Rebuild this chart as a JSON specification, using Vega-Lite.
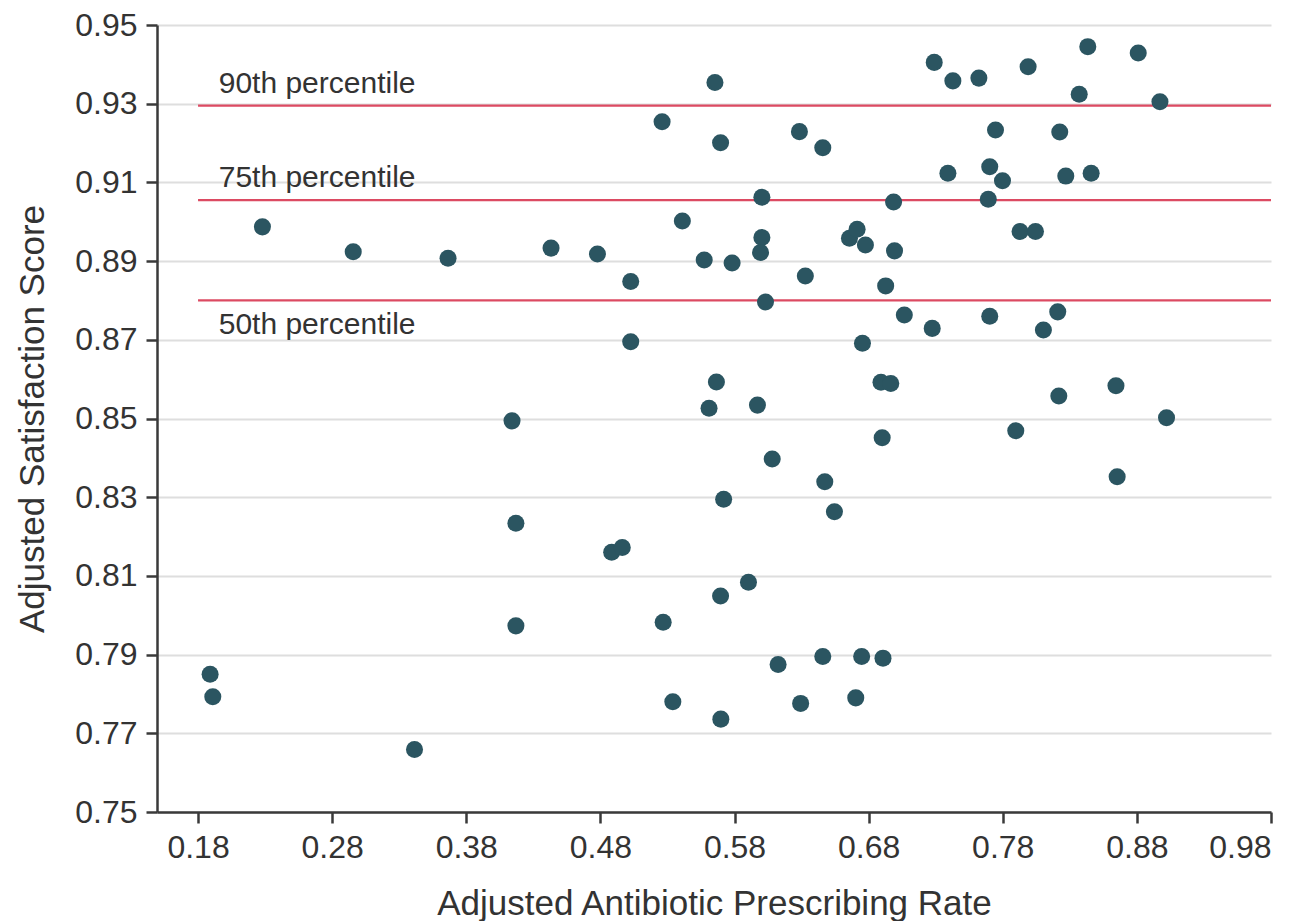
{
  "$schema": "https://vega.github.io/schema/vega-lite/v6.json",
  "autosize": {"type": "none"},
  "padding": {"left": 157, "top": 25, "right": 38, "bottom": 109},
  "width": 1114,
  "height": 787,
  "background": "white",
  "config": {
    "view": {"stroke": null},
    "font": "Liberation Sans",
    "axis": {
      "domainColor": "#3a3a3a",
      "domainWidth": 2.5,
      "tickColor": "#3a3a3a",
      "tickWidth": 2.5,
      "tickSize": 11,
      "labelFont": "Liberation Sans",
      "labelFontSize": 32,
      "labelColor": "#333333",
      "labelPadding": 9,
      "titleFont": "Liberation Sans",
      "titleFontSize": 35,
      "titleFontWeight": "normal",
      "titleColor": "#333333",
      "gridColor": "#dedede",
      "gridWidth": 2
    }
  },
  "datasets": {
    "points": [
      {"rate": 0.189, "score": 0.785},
      {"rate": 0.191, "score": 0.7793},
      {"rate": 0.3414, "score": 0.7659},
      {"rate": 0.228, "score": 0.8987},
      {"rate": 0.2957, "score": 0.8924},
      {"rate": 0.3664, "score": 0.8907},
      {"rate": 0.4141, "score": 0.8494},
      {"rate": 0.417, "score": 0.8234},
      {"rate": 0.417, "score": 0.7973},
      {"rate": 0.4432, "score": 0.8933},
      {"rate": 0.4778, "score": 0.8918},
      {"rate": 0.5026, "score": 0.8848},
      {"rate": 0.5026, "score": 0.8695},
      {"rate": 0.4884, "score": 0.816},
      {"rate": 0.4963, "score": 0.8172},
      {"rate": 0.526, "score": 0.9254},
      {"rate": 0.5411, "score": 0.9002},
      {"rate": 0.5268, "score": 0.7982},
      {"rate": 0.534, "score": 0.778},
      {"rate": 0.5574, "score": 0.8903},
      {"rate": 0.5654, "score": 0.9354},
      {"rate": 0.5696, "score": 0.9201},
      {"rate": 0.5782, "score": 0.8895},
      {"rate": 0.5665, "score": 0.8593},
      {"rate": 0.561, "score": 0.8526},
      {"rate": 0.5971, "score": 0.8534},
      {"rate": 0.5719, "score": 0.8295},
      {"rate": 0.5696, "score": 0.8049},
      {"rate": 0.5904, "score": 0.8084},
      {"rate": 0.5698, "score": 0.7736},
      {"rate": 0.6004, "score": 0.9062},
      {"rate": 0.6004, "score": 0.896},
      {"rate": 0.5994, "score": 0.8922},
      {"rate": 0.6031, "score": 0.8796},
      {"rate": 0.6081, "score": 0.8397},
      {"rate": 0.6125, "score": 0.7875},
      {"rate": 0.6284, "score": 0.9229},
      {"rate": 0.6458, "score": 0.9188},
      {"rate": 0.6328, "score": 0.8862},
      {"rate": 0.6293, "score": 0.7776},
      {"rate": 0.6473, "score": 0.8339},
      {"rate": 0.6545, "score": 0.8263},
      {"rate": 0.6458, "score": 0.7895},
      {"rate": 0.6748, "score": 0.7895},
      {"rate": 0.6907, "score": 0.7891},
      {"rate": 0.6704, "score": 0.779},
      {"rate": 0.6657, "score": 0.8958},
      {"rate": 0.6714, "score": 0.8981},
      {"rate": 0.6776, "score": 0.8941},
      {"rate": 0.6986, "score": 0.905},
      {"rate": 0.6993, "score": 0.8926},
      {"rate": 0.6927, "score": 0.8837},
      {"rate": 0.6754, "score": 0.8691},
      {"rate": 0.6892, "score": 0.8592},
      {"rate": 0.6965, "score": 0.8589},
      {"rate": 0.6901, "score": 0.8451},
      {"rate": 0.7066, "score": 0.8763},
      {"rate": 0.7274, "score": 0.8729},
      {"rate": 0.7289, "score": 0.9405},
      {"rate": 0.7428, "score": 0.9358},
      {"rate": 0.7622, "score": 0.9365},
      {"rate": 0.7391, "score": 0.9123},
      {"rate": 0.7703, "score": 0.914},
      {"rate": 0.7746, "score": 0.9233},
      {"rate": 0.7798, "score": 0.9104},
      {"rate": 0.7692, "score": 0.9057},
      {"rate": 0.7703, "score": 0.876},
      {"rate": 0.7897, "score": 0.8469},
      {"rate": 0.7929, "score": 0.8975},
      {"rate": 0.8044, "score": 0.8975},
      {"rate": 0.7989, "score": 0.9394},
      {"rate": 0.8103, "score": 0.8725},
      {"rate": 0.821, "score": 0.8771},
      {"rate": 0.8218, "score": 0.8557},
      {"rate": 0.8225, "score": 0.9228},
      {"rate": 0.827, "score": 0.9116},
      {"rate": 0.837, "score": 0.9324},
      {"rate": 0.8434, "score": 0.9445},
      {"rate": 0.8459, "score": 0.9123},
      {"rate": 0.8644, "score": 0.8583},
      {"rate": 0.8653, "score": 0.8352},
      {"rate": 0.881, "score": 0.9429},
      {"rate": 0.8972, "score": 0.9305},
      {"rate": 0.9021, "score": 0.8502}
    ],
    "pct": [
      {"label": "90th percentile", "score": 0.9295},
      {"label": "75th percentile", "score": 0.9055},
      {"label": "50th percentile", "score": 0.88}
    ]
  },
  "layer": [
    {
      "data": {"name": "pct"},
      "mark": {"type": "rule", "color": "#dc4a62", "strokeWidth": 2.3},
      "encoding": {
        "x": {
          "datum": 0.18,
          "type": "quantitative",
          "title": "Adjusted Antibiotic Prescribing Rate",
          "scale": {"domain": [0.1494, 0.98], "nice": false, "zero": false},
          "axis": {
            "title": "Adjusted Antibiotic Prescribing Rate",
            "values": [0.18, 0.28, 0.38, 0.48, 0.58, 0.68, 0.78, 0.88, 0.98],
            "format": ".2f",
            "grid": false,
            "titleX": 557,
            "titleY": 102,
            "titleBaseline": "alphabetic"
          }
        },
        "x2": {"datum": 0.98},
        "y": {
          "field": "score",
          "type": "quantitative",
          "title": "Adjusted Satisfaction Score",
          "scale": {"domain": [0.75, 0.95], "nice": false, "zero": false},
          "axis": {
            "title": "Adjusted Satisfaction Score",
            "values": [0.75, 0.77, 0.79, 0.81, 0.83, 0.85, 0.87, 0.89, 0.91, 0.93, 0.95],
            "format": ".2f",
            "grid": true,
            "titleX": -114,
            "titleY": 393.5,
            "titleAngle": -90,
            "titleBaseline": "alphabetic",
            "titleAlign": "center"
          }
        }
      }
    },
    {
      "data": {"name": "pct"},
      "transform": [{"filter": "datum.score > 0.9"}],
      "mark": {"type": "text", "align": "left", "baseline": "alphabetic", "dy": -13, "fontSize": 30, "font": "Liberation Sans", "color": "#333333"},
      "encoding": {
        "x": {"datum": 0.1954, "type": "quantitative", "title": "Adjusted Antibiotic Prescribing Rate"},
        "y": {"field": "score", "type": "quantitative", "title": "Adjusted Satisfaction Score"},
        "text": {"field": "label"}
      }
    },
    {
      "data": {"name": "pct"},
      "transform": [{"filter": "datum.score < 0.9"}],
      "mark": {"type": "text", "align": "left", "baseline": "alphabetic", "dy": 34, "fontSize": 30, "font": "Liberation Sans", "color": "#333333"},
      "encoding": {
        "x": {"datum": 0.1954, "type": "quantitative", "title": "Adjusted Antibiotic Prescribing Rate"},
        "y": {"field": "score", "type": "quantitative", "title": "Adjusted Satisfaction Score"},
        "text": {"field": "label"}
      }
    },
    {
      "data": {"name": "points"},
      "mark": {"type": "circle", "size": 290, "color": "#2b5561", "opacity": 1},
      "encoding": {
        "x": {"field": "rate", "type": "quantitative", "title": "Adjusted Antibiotic Prescribing Rate"},
        "y": {"field": "score", "type": "quantitative", "title": "Adjusted Satisfaction Score"}
      }
    }
  ]
}
